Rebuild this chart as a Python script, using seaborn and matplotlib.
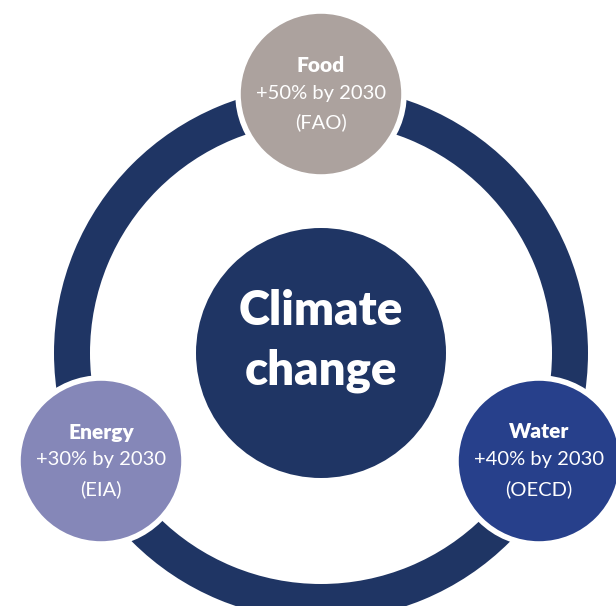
import matplotlib
matplotlib.use("Agg")
import matplotlib.pyplot as plt
from matplotlib.patches import Circle, Wedge
import seaborn as sns

# Data
categories = ["Food", "Energy", "Water"]
increase_pct = [50, 30, 40]
target_year = [2030, 2030, 2030]
sources = ["FAO", "EIA", "OECD"]
center_label = ["Climate", "change"]

# Styles / layout
node_colors = ["#ACA29E", "#8587B8", "#27408B"]
navy = "#1F3564"
node_xy = [(321, 94), (101, 461), (539, 461)]
node_r = 83
ring_c = (321, 353)

sns.set_theme(style="white")
plt.rcParams["font.family"] = ["Lato", "DejaVu Sans"]

fig = plt.figure(figsize=(6.16, 6.06), dpi=100)
ax = fig.add_axes([0, 0, 1, 1])
ax.set_xlim(0, 616)
ax.set_ylim(606, 0)
ax.set_aspect("equal")
ax.axis("off")

ax.add_patch(Wedge(ring_c, 267, 0, 360, width=36, facecolor=navy, edgecolor="none"))
ax.add_patch(Circle(ring_c, 125, facecolor=navy, edgecolor="none"))
ax.text(ring_c[0], 311, center_label[0], ha="center", va="center", color="white",
        fontsize=34, fontweight="heavy")
ax.text(ring_c[0], 371, center_label[1], ha="center", va="center", color="white",
        fontsize=34, fontweight="heavy")

for cat, pct, yr, src, col, (x, y) in zip(categories, increase_pct, target_year,
                                           sources, node_colors, node_xy):
    ax.add_patch(Circle((x, y), node_r, facecolor=col, edgecolor="white", linewidth=4))
    ax.text(x, y - 29, cat, ha="center", va="center", color="white",
            fontsize=15, fontweight="heavy")
    ax.text(x, y - 1, f"+{pct}% by {yr}", ha="center", va="center", color="white",
            fontsize=14.5)
    ax.text(x, y + 28, f"({src})", ha="center", va="center", color="white",
            fontsize=14.5)

fig.savefig("out.png", dpi=100)
